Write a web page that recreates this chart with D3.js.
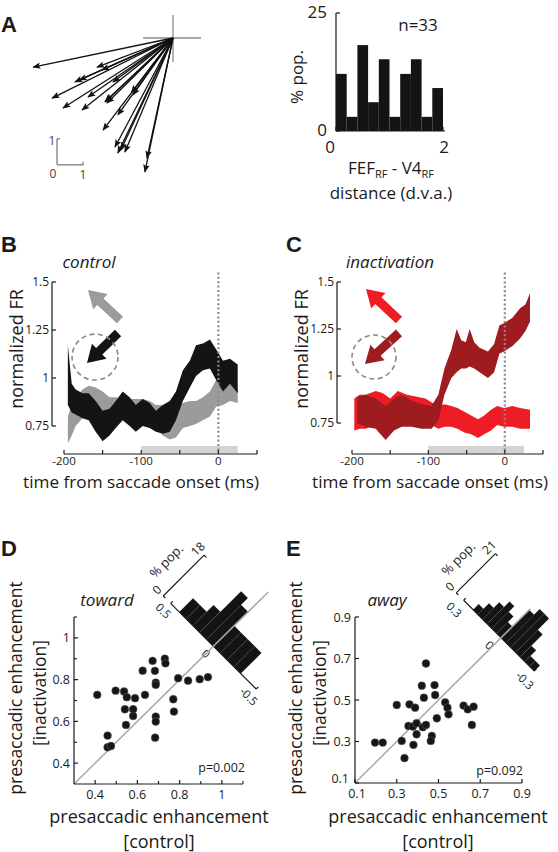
<!DOCTYPE html>
<html><head><meta charset="utf-8">
<script src="https://cdn.jsdelivr.net/npm/d3@7"></script>
<style>
body{margin:0;background:#fff}
text{font-family:"Open Sans","Noto Sans",sans-serif;fill:#1a1a1a}
</style>
</head><body>
<svg id="fig" width="558" height="852"></svg>
<script>
// ---------------- DATA ----------------
// Panel A: saccade vectors (d.v.a., relative to FEF RF center)
const vecDX = [-5.38,-2.92,-2.73,-3.77,-3.6,-2.31,-4.65,-3.27,-4.23,-3.5,-2.54,-2.62,-2.58,-1.54,-1.6,-2.12,-2.69,-2.23,-2.12,-1.85,-2.0,-1.0,-1.08];
const vecDY = [-1.12,-1.12,-1.23,-1.69,-1.62,-1.69,-2.31,-2.27,-2.69,-2.77,-2.5,-2.46,-2.42,-2.19,-2.1,-2.96,-3.54,-4.19,-4.42,-4.38,-4.3,-4.62,-5.15];
// Panel A histogram: FEF_RF - V4_RF distance
const distBinStart = [0,0.2,0.4,0.6,0.8,1.0,1.2,1.4,1.6,1.8];
const distPct = [12.1,3.0,18.2,6.1,15.2,3.0,12.1,15.2,3.0,9.1];
const distTicksY = [0,25];
const distTicksX = [0,2];

// Panel B (control)
const tB = [-195,-190,-185,-176,-168,-159,-150,-141,-133,-124,-115,-107,-98,-89,-81,-72,-63,-55,-46,-37,-29,-20,-11,-3,6,15,25];
const ctrlTowardHi = [1.17,0.97,0.94,0.92,0.92,0.88,0.83,0.84,0.88,0.93,0.90,0.86,0.89,0.87,0.83,0.86,0.88,0.93,1.04,1.09,1.17,1.18,1.20,1.15,1.09,1.10,1.07];
const ctrlTowardLo = [0.86,0.82,0.81,0.79,0.78,0.72,0.67,0.70,0.74,0.78,0.75,0.72,0.75,0.74,0.72,0.71,0.72,0.78,0.88,0.95,1.01,1.04,1.05,0.99,0.93,0.97,0.92];
const ctrlAwayHi = [0.80,0.86,0.90,0.94,0.96,0.95,0.93,0.90,0.90,0.89,0.89,0.89,0.89,0.88,0.86,0.86,0.85,0.85,0.87,0.88,0.88,0.90,0.93,0.99,0.95,0.97,0.95];
const ctrlAwayLo = [0.66,0.70,0.75,0.79,0.81,0.82,0.81,0.80,0.80,0.79,0.79,0.79,0.79,0.78,0.75,0.70,0.68,0.69,0.74,0.75,0.76,0.78,0.80,0.85,0.86,0.88,0.87];

// Panel C (inactivation)
const tCtow = [-193,-182,-169,-156,-145,-135,-122,-109,-96,-87,-79,-70,-63,-57,-51,-46,-40,-33,-22,-14,-7,-1,10,20,27,33];
const inactTowardHi = [0.89,0.90,0.88,0.84,0.88,0.90,0.87,0.85,0.84,0.90,1.04,1.14,1.25,1.19,1.18,1.25,1.18,1.15,1.13,1.17,1.27,1.28,1.31,1.36,1.38,1.44];
const inactTowardLo = [0.75,0.73,0.72,0.66,0.71,0.73,0.73,0.72,0.72,0.76,0.90,0.99,1.02,1.04,1.04,1.05,1.04,1.02,0.99,1.02,1.12,1.13,1.16,1.20,1.24,1.29];
const tCaway = [-197,-190,-182,-169,-160,-150,-140,-128,-115,-104,-96,-87,-79,-70,-62,-53,-44,-35,-27,-18,-10,-1,10,20,33];
const inactAwayHi = [0.88,0.90,0.90,0.92,0.91,0.88,0.92,0.90,0.89,0.88,0.86,0.84,0.85,0.84,0.83,0.81,0.79,0.77,0.79,0.82,0.84,0.83,0.84,0.83,0.82];
const inactAwayLo = [0.71,0.72,0.72,0.74,0.73,0.73,0.75,0.75,0.75,0.74,0.74,0.72,0.73,0.73,0.72,0.70,0.69,0.67,0.69,0.71,0.74,0.73,0.73,0.72,0.72];

const frTicks = [0.75,1,1.25,1.5];
const timeTicks = [-200,-150,-100,-50,0,50];
const timeLabels = [-200,-100,0];
const analysisWindow = [-100,25];

// Panel D (toward)
const dCtrl  = [0.41,0.497,0.537,0.55,0.589,0.636,0.625,0.672,0.683,0.73,0.733,0.687,0.687,0.77,0.793,0.84,0.895,0.934,0.773,0.687,0.687,0.684,0.541,0.58,0.58,0.546,0.459,0.459,0.475];
const dInact = [0.727,0.747,0.743,0.716,0.711,0.727,0.843,0.89,0.842,0.90,0.878,0.786,0.775,0.706,0.807,0.795,0.802,0.812,0.647,0.623,0.599,0.522,0.658,0.658,0.626,0.583,0.532,0.476,0.482];
const dTicks = [0.4,0.6,0.8,1];
const dHistStart = [0.40,0.32,0.24,0.16,0.08,0.0,-0.08,-0.16,-0.24];
const dHistPct = [6.1,6.1,9.1,18.2,15.2,9.1,9.1,9.1,9.1];

// Panel E (away)
const eCtrl  = [0.196,0.233,0.30,0.324,0.337,0.361,0.388,0.356,0.377,0.38,0.395,0.395,0.425,0.44,0.42,0.43,0.44,0.481,0.484,0.468,0.463,0.492,0.532,0.543,0.548,0.62,0.64,0.668,0.66];
const eInact = [0.295,0.295,0.476,0.303,0.22,0.479,0.463,0.375,0.372,0.284,0.388,0.335,0.369,0.38,0.569,0.511,0.676,0.572,0.524,0.327,0.303,0.412,0.489,0.463,0.431,0.473,0.455,0.468,0.38];
const eTicks = [0.1,0.3,0.5,0.7,0.9];
const eHistStart = [0.22,0.18,0.14,0.10,0.06,0.02,-0.02,-0.06,-0.10,-0.14,-0.18,-0.22,-0.26];
const eHistPct = [3,6,9,12,9,6,15,18,18,12,6,3,3];

// ---------------- DRAW ----------------
const svg = d3.select('#fig');
const INK = '#1a1a1a';
function txt(x,y,s,size,opts={}){
  const t = svg.append('text').attr('x',x).attr('y',y).attr('font-size',size).text(s);
  if(opts.anchor) t.attr('text-anchor',opts.anchor);
  if(opts.italic) t.attr('font-style','italic');
  if(opts.bold) t.attr('font-weight','bold').style('font-family','"Liberation Sans",Arial,sans-serif');
  if(opts.rot!==undefined) t.attr('transform',`rotate(${opts.rot},${x},${y})`);
  if(opts.fill) t.style('fill',opts.fill);
  return t;
}
function line(g,x1,y1,x2,y2,stroke,w,dash){
  const l=g.append('line').attr('x1',x1).attr('y1',y1).attr('x2',x2).attr('y2',y2)
   .attr('stroke',stroke).attr('stroke-width',w);
  if(dash) l.attr('stroke-dasharray',dash);
  return l;
}

// Panel letters
txt(1,32,'A',22,{bold:true});
txt(1,252,'B',22,{bold:true});
txt(286,252,'C',22,{bold:true});
txt(1,556,'D',22,{bold:true});
txt(286,556,'E',22,{bold:true});

// ---- Panel A: vectors ----
const xA = d3.scaleLinear().domain([0,1]).range([173,199]);
const yA = d3.scaleLinear().domain([0,1]).range([38,12]);
const defs = svg.append('defs');
defs.append('marker').attr('id','ah').attr('viewBox','0 0 10 8').attr('refX',9).attr('refY',4)
  .attr('markerWidth',9).attr('markerHeight',6.5).attr('markerUnits','userSpaceOnUse').attr('orient','auto')
  .append('path').attr('d','M0,0 L10,4 L0,8 L2,4 Z').attr('fill','#111');
const gA = svg.append('g');
line(gA,xA(-1.15),yA(0),xA(1.08),yA(0),'#8a8a8a',1.3);
line(gA,xA(0),yA(0.88),xA(0),yA(-0.92),'#8a8a8a',1.3);
vecDX.forEach((dx,i)=>{
  gA.append('line').attr('x1',xA(0)).attr('y1',yA(0)).attr('x2',xA(dx)).attr('y2',yA(vecDY[i]))
    .attr('stroke','#111').attr('stroke-width',1.3).attr('marker-end','url(#ah)');
});
// scale bar (1 d.v.a.)
const sb0=[-4.46,-4.88];
line(gA,xA(sb0[0]),yA(sb0[1]),xA(sb0[0]),yA(sb0[1]+1),'#555',1);
line(gA,xA(sb0[0]),yA(sb0[1]),xA(sb0[0]+1),yA(sb0[1]),'#555',1);
line(gA,xA(sb0[0]),yA(sb0[1]+1),xA(sb0[0])+3,yA(sb0[1]+1),'#555',1);
line(gA,xA(sb0[0]+1),yA(sb0[1]),xA(sb0[0]+1),yA(sb0[1])-3,'#555',1);
txt(xA(sb0[0])-5,yA(sb0[1]+1)+6,'1',12,{anchor:'middle',fill:'#444'});
txt(xA(sb0[0])-4,yA(sb0[1])+13,'0',12,{anchor:'middle',fill:'#444'});
txt(xA(sb0[0]+1),yA(sb0[1])+14,'1',12,{anchor:'middle',fill:'#444'});

// ---- Panel A: histogram ----
const xH = d3.scaleLinear().domain([0,2]).range([336,443]);
const yH = d3.scaleLinear().domain([0,25]).range([131,13]);
const gH = svg.append('g');
gH.selectAll('rect').data(distPct).join('rect')
  .attr('x',(d,i)=>xH(distBinStart[i])).attr('width',xH(0.2)-xH(0))
  .attr('y',d=>yH(d)).attr('height',d=>yH(0)-yH(d)).attr('fill','#141414');
line(gH,xH(0),yH(0),xH(0),yH(25),INK,1.2);
line(gH,xH(0),yH(0),xH(2)+2,yH(0),INK,1.2);
distTicksY.forEach(v=>{ line(gH,xH(0),yH(v),xH(0)+4,yH(v),INK,1.2);
  txt(xH(0)-9,yH(v)+5,String(v),17,{anchor:'end'}); });
distTicksX.forEach(v=>{ line(gH,xH(v),yH(0),xH(v),yH(0)-4,INK,1.2);
  txt(xH(v)-(v===0?6:-1),yH(0)+22,String(v),17,{anchor:'middle'}); });
txt(303,77,'% pop.',17,{anchor:'middle',rot:-90});
txt(418,31,'n=33',17,{anchor:'middle'});
const tf = svg.append('text').attr('x',391).attr('y',174).attr('text-anchor','middle').attr('font-size',17);
tf.append('tspan').text('FEF');
tf.append('tspan').attr('font-size',11).attr('dy',3.5).text('RF');
tf.append('tspan').attr('dy',-3.5).text(' - V4');
tf.append('tspan').attr('font-size',11).attr('dy',3.5).text('RF');
txt(391,198.5,'distance (d.v.a.)',17,{anchor:'middle'});

// ---- Panels B and C ----
function tracePanel(o){
  const x = d3.scaleLinear().domain([-200,50]).range(o.xr);
  const y = d3.scaleLinear().domain([0.75,1.5]).range(o.yr);
  const g = svg.append('g');
  const area = (tt,lo,hi)=>d3.area().x((d,i)=>x(tt[i])).y0((d,i)=>y(lo[i])).y1((d,i)=>y(hi[i]))(tt);
  // analysis window bar
  g.append('rect').attr('x',x(analysisWindow[0])).attr('width',x(analysisWindow[1])-x(analysisWindow[0]))
    .attr('y',o.axisY-8).attr('height',7).attr('fill','#d3d3d3');
  o.bands.forEach(b=>{ g.append('path').attr('d',area(b.t,b.lo,b.hi)).attr('fill',b.color); });
  // saccade onset
  line(g,x(0),y(1.55),x(0),o.axisY-1,'#8a8a8a',2.2,'2,2.4');
  // y axis
  line(g,o.yAxisX,y(0.75),o.yAxisX,y(1.5),INK,1.2);
  frTicks.forEach(v=>{ line(g,o.yAxisX,y(v),o.yAxisX+4,y(v),INK,1.2);
    txt(o.yAxisX-3,y(v)+4,String(v),12,{anchor:'end'}); });
  // x axis
  line(g,x(-200),o.axisY,x(50),o.axisY,INK,1.2);
  timeTicks.forEach(v=>line(g,x(v),o.axisY,x(v),o.axisY-4,INK,1.2));
  timeLabels.forEach(v=>txt(x(v),o.axisY+11,String(v),11.5,{anchor:'middle'}));
  txt(o.titleX,487.5,'time from saccade onset (ms)',17.2,{anchor:'middle'});
  txt(o.yAxisX-36,349,'normalized FR',18,{anchor:'middle',rot:-90}).attr('dominant-baseline','central');
  txt(o.condX,268,o.cond,17,{anchor:'middle',italic:true});
  // direction arrows
  const arrow=(tail,tip,color)=>{
    const x0=x(tail[0]),y0=y(tail[1]),x1=x(tip[0]),y1=y(tip[1]);
    const L=Math.hypot(x1-x0,y1-y0), ux=(x1-x0)/L, uy=(y1-y0)/L, px=-uy, py=ux;
    const hl=17, sw=4.5, hw=10.5;
    const bx=x1-ux*hl, by=y1-uy*hl;
    const pts=[[x0+px*sw,y0+py*sw],[bx+px*sw,by+py*sw],[bx+px*hw,by+py*hw],[x1,y1],
               [bx-px*hw,by-py*hw],[bx-px*sw,by-py*sw],[x0-px*sw,y0-py*sw]];
    g.append('polygon').attr('points',pts.map(p=>p.join(',')).join(' ')).attr('fill',color);
  };
  arrow(o.awayArrow[0],o.awayArrow[1],o.awayColor);
  arrow(o.towArrow[0],o.towArrow[1],o.towColor);
  g.append('circle').attr('cx',x(o.circle[0])).attr('cy',y(o.circle[1])).attr('r',o.circle[2])
    .attr('fill','none').attr('stroke','#8a8a8a').attr('stroke-width',1.6).attr('stroke-dasharray','5,3.5');
}
tracePanel({xr:[64,257],yr:[426,282],axisY:454,yAxisX:52,titleX:141,condX:89,cond:'control',
  bands:[{t:tB,lo:ctrlAwayLo,hi:ctrlAwayHi,color:'#9b9b9b'},{t:tB,lo:ctrlTowardLo,hi:ctrlTowardHi,color:'#141414'}],
  awayArrow:[[-127.5,1.302],[-168.9,1.458]],towArrow:[[-130,1.234],[-170.2,1.078]],circle:[-159.8,1.109,23],
  awayColor:'#9b9b9b',towColor:'#141414'});
tracePanel({xr:[352,543],yr:[423,282],axisY:454,yAxisX:337,titleX:430,condX:390,cond:'inactivation',
  bands:[{t:tCaway,lo:inactAwayLo,hi:inactAwayHi,color:'#ee1d25'},{t:tCtow,lo:inactTowardLo,hi:inactTowardHi,color:'#9e1b20'}],
  awayArrow:[[-138.5,1.298],[-181.7,1.463]],towArrow:[[-138.5,1.229],[-183,1.064]],circle:[-171.2,1.101,22],
  awayColor:'#ee1d25',towColor:'#9e1b20'});

// ---- Panels D and E ----
function scatterPanel(o){
  const x = d3.scaleLinear().domain(o.dom).range(o.xr);
  const y = d3.scaleLinear().domain(o.dom).range(o.yr);
  const g = svg.append('g');
  // rotated histogram of differences
  const cx=x(o.hc), cy=y(o.hc);
  const hg = g.append('g').attr('transform',`translate(${cx},${cy}) rotate(45)`);
  const b = d3.scaleLinear().domain([o.hRange,-o.hRange]).range(o.hPx);
  const p = d3.scaleLinear().domain([0,o.pTop]).range([0,o.pPx]);
  hg.selectAll('rect').data(o.hPct).join('rect')
    .attr('x',(d,i)=>b(o.hStart[i])).attr('width',(d,i)=>b(o.hStart[i]-o.hW)-b(o.hStart[i]))
    .attr('y',d=>-p(d)).attr('height',d=>p(d)).attr('fill','#141414');
  line(hg,b(o.hRange),0,b(-o.hRange),0,INK,1.2);
  [o.hRange,-o.hRange].forEach(v=>line(hg,b(v),0,b(v),-3,INK,1.2));
  [o.hRange,0,-o.hRange].forEach(v=>{
    hg.append('text').attr('x',b(v)).attr('y',o.lblOff).attr('text-anchor','middle')
      .attr('dominant-baseline','central').attr('font-size',11.5).text(String(v));
  });
  const ax=b(o.hRange)-o.pOff;
  line(hg,ax,0,ax,-p(o.pTop),INK,1.2);
  [0,o.pTop].forEach(v=>{
    line(hg,ax,-p(v),ax+3,-p(v),INK,1.2);
    hg.append('text').attr('transform',`translate(${ax-9},${-p(v)}) rotate(-90)`).attr('text-anchor','middle')
      .attr('dominant-baseline','central').attr('font-size',12).text(String(v));
  });
  hg.append('text').attr('transform',`translate(${ax-23},${-p(o.pTop)/2+2}) rotate(-90)`).attr('text-anchor','middle')
    .attr('dominant-baseline','central').attr('font-size',13).text('% pop.');
  // unity line
  line(g,x(o.dom[0]),y(o.dom[0]),x(o.unityEnd),y(o.unityEnd),'#a8a8a8',1.5);
  // axes
  line(g,x(o.dom[0]),y(o.dom[0]),x(o.dom[0]),y(o.dom[1]),INK,1.2);
  line(g,x(o.dom[0]),y(o.dom[0]),x(o.dom[1]),y(o.dom[0]),INK,1.2);
  o.minor.forEach(v=>{ line(g,x(o.dom[0]),y(v),x(o.dom[0])+3,y(v),INK,1.1);
                       line(g,x(v),y(o.dom[0]),x(v),y(o.dom[0])-3,INK,1.1); });
  o.ticks.forEach(v=>{
    line(g,x(o.dom[0]),y(v),x(o.dom[0])+4,y(v),INK,1.2);
    line(g,x(v),y(o.dom[0]),x(v),y(o.dom[0])-4,INK,1.2);
    const corner = (v===o.dom[0]);
    txt(x(o.dom[0])-(corner?6:4),y(v)+(corner?-0.5:4.5),String(v),12.5,{anchor:'end'});
    txt(x(v)+(corner?2:0),y(o.dom[0])+15,String(v),12.5,{anchor:'middle'});
  });
  // points
  g.selectAll('circle.pt').data(o.cx).join('circle').attr('class','pt')
    .attr('cx',d=>x(d)).attr('cy',(d,i)=>y(o.cy[i])).attr('r',3.9)
    .attr('fill','#161616').attr('stroke','#666').attr('stroke-width',0.5);
  txt(o.pX,o.pY,o.pText,12.5,{anchor:'end'});
  txt(o.condX,606,o.cond,17,{anchor:'middle',italic:true});
  txt(o.yTitleX,688,'presaccadic enhancement',17.5,{anchor:'middle',rot:-90}).attr('dominant-baseline','central');
  txt(o.yTitleX+24,693,'[inactivation]',17.5,{anchor:'middle',rot:-90}).attr('dominant-baseline','central');
  txt(o.xTitleX,823,'presaccadic enhancement',18,{anchor:'middle'});
  txt(o.xTitleX,848,'[control]',18,{anchor:'middle'});
}
scatterPanel({dom:[0.3,1.1],xr:[74,243],yr:[784,617],ticks:dTicks,minor:[0.5,0.7,0.9,1.1],unityEnd:1.22,
  hc:0.96,hRange:0.5,hPx:[-60.5,60.5],hStart:dHistStart,hW:0.08,hPct:dHistPct,pTop:18,pPx:57.8,pOff:10.5,lblOff:10,
  cx:dCtrl,cy:dInact,pX:245,pY:772,pText:'p=0.002',condX:107,cond:'toward',yTitleX:15,xTitleX:159});
scatterPanel({dom:[0.1,0.9],xr:[355,522],yr:[783,617],ticks:eTicks,minor:[],unityEnd:0.94,
  hc:0.8,hRange:0.3,hPx:[-53,47],hStart:eHistStart,hW:0.04,hPct:eHistPct,pTop:21,pPx:55.4,pOff:10.5,lblOff:13,
  cx:eCtrl,cy:eInact,pX:523,pY:775,pText:'p=0.092',condX:387,cond:'away',yTitleX:295,xTitleX:438});
</script>
</body></html>
